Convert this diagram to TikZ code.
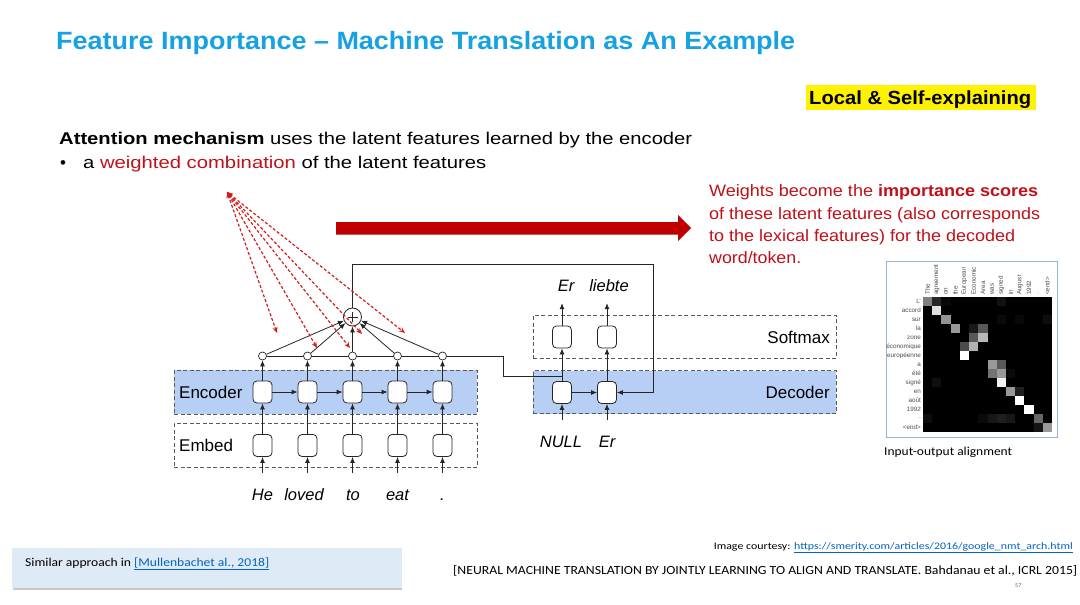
\documentclass[tikz,border=0pt]{standalone}
\usepackage{fontspec}
\setmainfont{Liberation Sans}
\newfontfamily\calib{Carlito}
\usetikzlibrary{arrows.meta}
\newcommand{\fitw}[2]{\resizebox{#1}{\height}{#2}}
\definecolor{titleblue}{RGB}{22,162,226}
\definecolor{dred}{RGB}{192,16,24}
\definecolor{bigred}{RGB}{192,0,0}
\definecolor{encblue}{RGB}{184,207,245}
\definecolor{boxblue}{RGB}{222,235,247}
\definecolor{linkblue}{RGB}{5,99,193}
\definecolor{framec}{RGB}{150,180,210}
\definecolor{dashred}{RGB}{210,30,30}
\tikzset{
  txt/.style={anchor=base west, inner sep=0pt},
  band/.style={draw=black!65, dash pattern=on 4pt off 2.5pt, line width=0.8pt, minimum width=303pt, inner sep=0pt},
  cell/.style={draw=black!85, fill=white, rounded corners=4pt, minimum width=19pt, minimum height=22pt, inner sep=0pt, line width=0.8pt},
  smallc/.style={draw=black!85, fill=white, circle, minimum size=8pt, inner sep=0pt, line width=0.7pt},
  plusc/.style={draw=black!85, fill=white, circle, minimum size=18pt, inner sep=0pt, line width=0.8pt},
  word/.style={anchor=base, inner sep=0pt, text height=12pt, text depth=3pt, font=\fontsize{16.5}{19}\selectfont\itshape},
  lbl/.style={inner sep=0pt, font=\fontsize{17}{20}\selectfont},
  arr/.style={draw=black!85, line width=0.8pt, -{Latex[length=6pt,width=5pt]}},
  ln/.style={draw=black!85, line width=0.8pt},
  reddash/.style={draw=dashred, line width=1.2pt, dash pattern=on 3pt off 2pt, {Stealth[length=6pt,width=5pt]}-{Stealth[length=6pt,width=5pt]}},
  mlab/.style={inner sep=0pt, font=\fontsize{6.3}{7}\selectfont, text=black!70},
}
\begin{document}
\begin{tikzpicture}[x=1pt,y=-1pt]
\useasboundingbox (0,0) rectangle (1080,605);
\fill[white] (0,0) rectangle (1080,605);

% title and texts
\node[txt, text=titleblue, font=\fontsize{25}{30}\selectfont\bfseries] (title) at (56,49) {\fitw{739pt}{Feature Importance – Machine Translation as An Example}};
\node[fill=yellow, inner sep=0pt, minimum width=230pt, minimum height=25pt] (local) at (921,97.5) {};
\node[txt, font=\fontsize{19}{22}\selectfont\bfseries] (localt) at (809,104) {\fitw{222pt}{Local \& Self-explaining}};
\node[txt, font=\fontsize{17}{20}\selectfont] (att) at (59,144) {\fitw{633pt}{\textbf{Attention mechanism} uses the latent features learned by the encoder}};
\node[txt, font=\fontsize{17}{20}\selectfont] (bul) at (60,168) {•};
\node[txt, font=\fontsize{17}{20}\selectfont] (bult) at (83,168) {\fitw{403pt}{a \textcolor{dred}{weighted combination} of the latent features}};
\node[txt, text=dred, font=\fontsize{16.5}{20}\selectfont] (r1t) at (709,196) {\fitw{329pt}{Weights become the \textbf{importance scores}}};
\node[txt, text=dred, font=\fontsize{16.5}{20}\selectfont] (r2t) at (709,219) {\fitw{331pt}{of these latent features (also corresponds}};
\node[txt, text=dred, font=\fontsize{16.5}{20}\selectfont] (r3t) at (709,241) {\fitw{306pt}{to the lexical features) for the decoded}};
\node[txt, text=dred, font=\fontsize{16.5}{20}\selectfont] (r4t) at (709,263) {\fitw{92pt}{word/token.}};

% big red arrow
\fill[bigred] (336,222) -- (678,222) -- (678,215) -- (691,228) -- (678,241) -- (678,234.5) -- (336,234.5) -- cycle;

% bands
\node[band, fill=encblue, minimum height=44pt] (encband) at (325.5,392) {};
\node[band, minimum height=44pt] (embband) at (325.5,445) {};
\node[band, fill=encblue, minimum height=43pt] (decband) at (684.5,392) {};
\node[band, minimum height=43pt] (smband) at (684.5,336.5) {};
\node[lbl, anchor=west] (enclbl) at (179,392) {Encoder};
\node[lbl, anchor=west] (emblbl) at (179,445) {Embed};
\node[lbl, anchor=east] (smlbl) at (830,337) {Softmax};
\node[lbl, anchor=east] (declbl) at (830,392) {Decoder};

% encoder cells
\foreach \i/\x in {1/262.5,2/307.5,3/352.5,4/397.5,5/442.5}{
  \node[cell] (e\i) at (\x,392) {};
  \node[cell] (m\i) at (\x,445.5) {};
}
\foreach \i/\x/\w in {1/262.5/He,2/304/loved,3/353/to,4/397.5/eat,5/442.5/.}{
  \node[word] (w\i) at (\x,500) {\w};
}
% circle line
\coordinate (j1) at (503,356);
\coordinate (j2) at (503,376);
\coordinate (j3) at (562,376);
\draw[ln] (262.5,356) -- (j1) -- (j2) -- (j3);
\foreach \i/\x in {1/262.5,2/307.5,3/352.5,4/397.5,5/442.5}{
  \node[smallc] (c\i) at (\x,356) {};
}
\node[plusc] (plus) at (352.5,317) {};
\draw[ln, line width=0.7pt] ([xshift=-5pt]plus.center) -- ([xshift=5pt]plus.center);
\draw[ln, line width=0.7pt] ([yshift=-5pt]plus.center) -- ([yshift=5pt]plus.center);

\foreach \i in {1,...,5}{
  \draw[arr] ([yshift=15pt]w\i.north -| m\i.south) -- (m\i.south);
  \draw[arr] (m\i.north) -- (e\i.south);
  \draw[arr] (e\i.north) -- (c\i.south);
  \draw[arr] (c\i) -- (plus);
}
\foreach \i/\j in {1/2,2/3,3/4,4/5}{
  \draw[arr] (e\i.east) -- (e\j.west);
}

% decoder
\node[cell] (d1) at (562,392.5) {};
\node[cell] (d2) at (607,392.5) {};
\node[cell] (s1) at (562,337) {};
\node[cell] (s2) at (607,337) {};
\node[word] (n1) at (561,447) {NULL};
\node[word] (n2) at (607,447) {Er};
\node[word] (o1) at (566,291) {Er};
\node[word] (o2) at (609,291) {liebte};
\draw[arr] ([yshift=15pt]n1.north -| d1.south) -- (d1.south);
\draw[arr] ([yshift=15pt]n2.north) -- (d2.south);
\draw[arr] (d1.east) -- (d2.west);
\draw[arr] (d1.north) -- (s1.south);
\draw[arr] (d2.north) -- (s2.south);
\draw[arr] (s1.north) -- ([yshift=-9pt]o1.south -| s1.north);
\draw[arr] (s2.north) -- ([yshift=-9pt]o2.south -| s2.north);
\coordinate (t1) at (352.5,264);
\coordinate (t2) at (653,264);
\coordinate (t3) at (653,392.5);
\draw[arr] (plus.north) -- (t1) -- (t2) -- (t3) -- (d2.east);

% red dashed arrows
\coordinate (ro) at (227,192);
\coordinate (ra) at (277,333);
\coordinate (rb) at (317,348);
\coordinate (rc) at (350,348);
\coordinate (rd) at (362,334);
\coordinate (re) at (405,333);
\foreach \p in {ra,rb,rc,rd,re}{ \draw[reddash] (ro) -- (\p); }

% alignment matrix
\draw[framec, line width=0.8pt] (886,261) rectangle (1057,437);
\fill[black] (923,297) rectangle (1052,432);
\foreach \cc/\rr/\vv in {0/0/50,1/0/15,8/0/7,2/0/3,1/1/88,2/2/58,8/2/4,13/2/5,10/2/3,3/3/60,5/3/10,6/3/35,5/4/35,6/4/72,4/5/30,5/5/70,4/6/100,7/7/60,8/7/35,7/8/45,8/8/60,9/8/4,1/9/6,8/9/95,9/10/60,10/10/12,10/11/100,11/12/100,12/13/40,0/13/5,7/13/9,8/13/12,9/13/9,6/13/4,13/14/60,12/14/8}{
  \fill[white!\vv!black] (923+9.214*\cc,297+9*\rr) rectangle ++(9.214,9);
}
\foreach \k/\t in {0/The,1/agreement,2/on,3/the,4/European,5/Economic,6/Area,7/was,8/signed,9/in,10/August,11/1992,12/.,13/<end>}{
  \node[mlab, rotate=90, anchor=west] (cl\k) at (923+9.214*\k+4.6,295) {\t};
}
\foreach \k/\t in {0/L',1/accord,2/sur,3/la,4/zone,5/économique,6/européenne,7/a,8/été,9/signé,10/en,11/août,12/1992,13/.,14/<end>}{
  \node[mlab, anchor=east] (rl\k) at (921,301.5+9*\k) {\t};
}
\node[txt, font=\calib\fontsize{12}{14}\selectfont] (cap) at (884,455) {\fitw{128pt}{Input-output alignment}};

% bottom
\fill[black!22] (13,587) rectangle (402,590);
\fill[boxblue] (12,548) rectangle (402,588);
\node[txt, font=\calib\fontsize{12}{14}\selectfont] (sim) at (25,566) {\fitw{244pt}{Similar approach in \textcolor{linkblue}{\underline{[Mullenbachet al., 2018]}}}};
\node[anchor=base east, inner sep=0pt, font=\calib\fontsize{10}{12}\selectfont] (cour) at (1073,549) {\fitw{359pt}{Image courtesy: \textcolor{linkblue}{\underline{https://smerity.com/articles/2016/google\_nmt\_arch.html}}}};
\node[txt, font=\calib\fontsize{12.5}{14}\selectfont] (cite) at (453,574) {\fitw{624pt}{[NEURAL MACHINE TRANSLATION BY JOINTLY LEARNING TO ALIGN AND TRANSLATE. Bahdanau et al., ICRL 2015]}};
\node[txt, font=\calib\fontsize{6}{7}\selectfont, text=black!60] (pg) at (1015,587) {57};
\end{tikzpicture}
\end{document}
